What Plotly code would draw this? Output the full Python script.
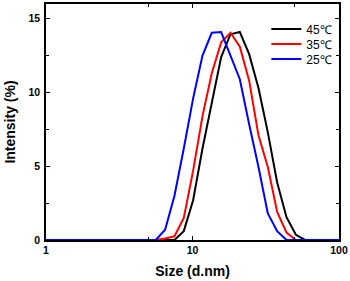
import plotly.graph_objects as go

sizes = [0.9649, 1.117, 1.294, 1.499, 1.736, 2.010, 2.328, 2.696, 3.122, 3.615,
         4.187, 4.849, 5.615, 6.503, 7.531, 8.721, 10.10, 11.70, 13.54, 15.69,
         18.17, 21.04, 24.36, 28.21, 32.67, 37.84, 43.82, 50.75, 58.77, 68.06,
         78.82, 91.28, 105.7]

int_45 = [0]*15 + [0.6, 2.7, 6.2, 9.4, 12.4, 13.95, 14.1, 12.6, 10.3, 7.3, 3.9, 1.55, 0.35] + [0]*5
int_35 = [0]*13 + [0.1, 0.25, 1.5, 4.7, 8.4, 11.3, 13.4, 14.05, 13.1, 10.8, 7.1, 4.95, 1.9, 0.5] + [0]*6
int_25 = [0]*13 + [0.7, 3.0, 6.2, 9.6, 12.5, 14.05, 14.1, 12.5, 10.9, 7.85, 4.95, 1.8, 0.6] + [0]*7

names = ["45℃", "35℃", "25℃"]
colors = ["#000000", "#ff0000", "#0000ff"]
series = [int_45, int_35, int_25]

x_ticks = [1, 10, 100]
x_minor = [5, 50]
y_ticks = [0, 5, 10, 15]

FONT = "Liberation Sans, Arial, sans-serif"

fig = go.Figure()
legends = ["legend", "legend2", "legend3"]
for name, col, ys, lg in zip(names, colors, series, legends):
    fig.add_trace(go.Scatter(x=sizes, y=ys, mode="lines", name=name,
                             line=dict(color=col, width=2), legend=lg))

leg_common = dict(font=dict(family=FONT, size=12, color="black"),
                  bgcolor="rgba(0,0,0,0)", borderwidth=0,
                  xanchor="left", yanchor="middle", x=0.752)
fig.update_layout(
    width=350, height=281,
    margin=dict(l=46, r=11, t=4, b=41, autoexpand=False),
    paper_bgcolor="white", plot_bgcolor="white",
    font=dict(family=FONT, color="black"),
    legend=dict(y=0.894, **leg_common),
    legend2=dict(y=0.8305, **leg_common),
    legend3=dict(y=0.767, **leg_common),
    showlegend=True,
)
fig.update_xaxes(
    type="log", range=[0, 2], automargin=False,
    tickvals=x_ticks, ticktext=[str(v) for v in x_ticks],
    ticks="inside", ticklen=4, tickwidth=1, tickcolor="black",
    minor=dict(tickvals=x_minor, ticks="inside", ticklen=3, tickcolor="black"),
    showline=True, linecolor="black", linewidth=1.5, mirror="ticks",
    showgrid=False, zeroline=False,
    tickfont=dict(family=FONT, size=10.5, color="black", weight="bold"),
    title=dict(text="<b>Size (d.nm)</b>", font=dict(family=FONT, size=14, color="black"), standoff=11),
)
fig.update_yaxes(
    range=[0, 16], automargin=False,
    tickvals=y_ticks,
    ticks="inside", ticklen=4, tickwidth=1, tickcolor="black",
    minor=dict(dtick=2.5, tick0=0, ticks="inside", ticklen=3, tickcolor="black"),
    showline=True, linecolor="black", linewidth=1.5, mirror="ticks",
    showgrid=False, zeroline=False, ticklabelstandoff=2,
    tickfont=dict(family=FONT, size=10.5, color="black", weight="bold"),
    title=dict(text="<b>Intensity (%)</b>", font=dict(family=FONT, size=14, color="black"), standoff=10),
)
fig.write_html("out.html", config={"displayModeBar": False},
               post_script="document.body.style.margin='0';")
